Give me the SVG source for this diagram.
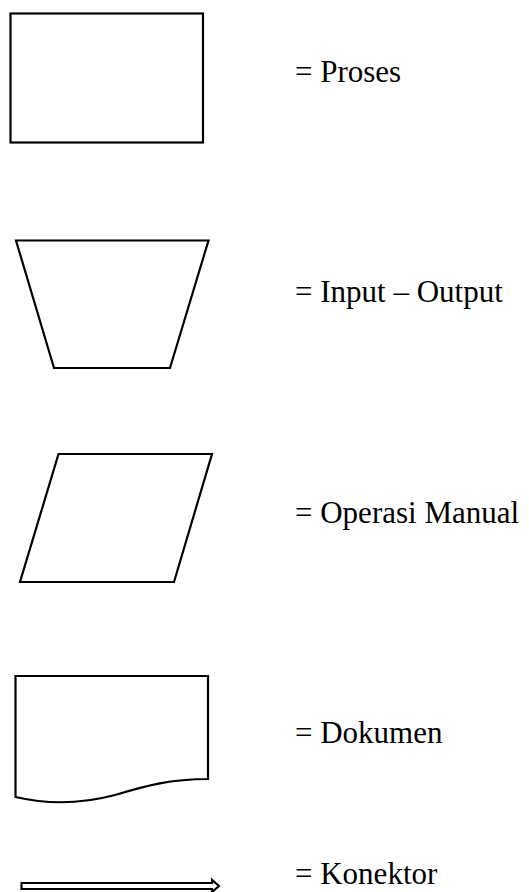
<svg xmlns="http://www.w3.org/2000/svg" width="529" height="892" viewBox="0 0 529 892">
<style>
.s{fill:#fff;stroke:#000;stroke-width:2.2;stroke-linejoin:miter}
text{font-family:'Liberation Serif','DejaVu Serif','Times New Roman',serif;font-size:31px;fill:#000}
</style>
<rect width="529" height="892" fill="#fff"/>
<g id="proses">
<rect class="s" x="10.5" y="13.5" width="192.5" height="129"/>
<text x="295" y="82">= Proses</text>
</g>
<g id="input-output">
<polygon class="s" points="16,240.5 208.5,240.5 170,368 54,368"/>
<text x="295" y="302">= Input – Output</text>
</g>
<g id="operasi-manual">
<polygon class="s" points="58.5,454 212,454 174,582 20,582"/>
<text x="295" y="523">= Operasi Manual</text>
</g>
<g id="dokumen">
<path class="s" d="M15.5,676 H208 V779 C170,779 145,786 115,795 C85,803 50,805 15.5,797 Z"/>
<text x="295" y="743">= Dokumen</text>
</g>
<g id="connectors">
<polygon class="s" stroke-width="1.8" points="21.5,883 212,883 212,880 219,886 212,892 212,889 21.5,889"/>
</g>
<g id="konektor">
<text x="295" y="884">= Konektor</text>
</g>
</svg>
